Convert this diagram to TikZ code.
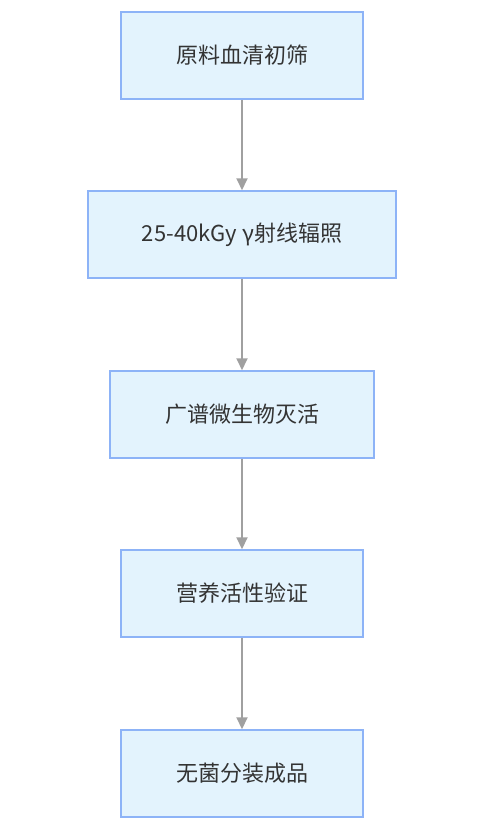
\documentclass[tikz,border=0pt]{standalone}
\usepackage{fontspec}
\setmainfont{Noto Sans CJK SC}
\usetikzlibrary{arrows.meta}
\definecolor{boxfill}{HTML}{E3F3FD}
\definecolor{boxline}{HTML}{8DB3F7}
\definecolor{flowline}{HTML}{A0A0A0}
\definecolor{txt}{HTML}{333333}
\tikzset{
  stepbox/.style={draw=boxline, line width=1.5pt, fill=boxfill, text=txt,
    minimum height=87pt, inner sep=0pt, font=\fontsize{22}{26}\selectfont},
  flow/.style={draw=flowline, line width=2pt, -{Triangle[length=12pt,width=11pt]}}
}
\begin{document}
\begin{tikzpicture}[x=1pt,y=1pt]
			\useasboundingbox (0,0) rectangle (484,-827);
			\node[stepbox, minimum width=242] (screen) at (242,-55.5) {原料血清初筛};
			\node[stepbox, minimum width=308] (irrad) at (242,-234.5) {25-40kGy γ射线辐照};
			\node[stepbox, minimum width=264] (inact) at (242,-414.5) {广谱微生物灭活};
			\node[stepbox, minimum width=242] (verify) at (242,-593.5) {营养活性验证};
			\node[stepbox, minimum width=242] (fill) at (242,-773.5) {无菌分装成品};
			\draw[flow] (screen) -- (irrad);
			\draw[flow] (irrad) -- (inact);
			\draw[flow] (inact) -- (verify);
			\draw[flow] (verify) -- (fill);
		\end{tikzpicture}
\end{document}
